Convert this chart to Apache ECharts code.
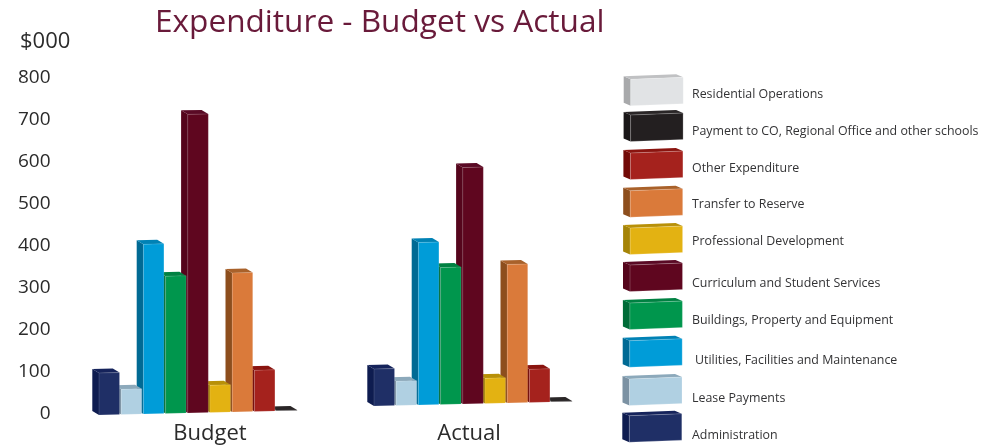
<!DOCTYPE html>
<html>
<head>
<meta charset="utf-8">
<style>html,body{margin:0;padding:0;background:#fff}#c{width:986px;height:447px}</style>
<script src="https://cdn.jsdelivr.net/npm/echarts@6/dist/echarts.min.js"></script>
</head>
<body>
<div id="c"></div>
<script>
const categories = ['Budget', 'Actual'];
const seriesNames = ['Residential Operations', 'Payment to CO, Regional Office and other schools', 'Other Expenditure', 'Transfer to Reserve', 'Professional Development', 'Curriculum and Student Services', 'Buildings, Property and Equipment', 'Utilities, Facilities and Maintenance', 'Lease Payments', 'Administration'];
const budgetValues = [0, 1, 98, 331, 65, 711, 327, 404, 60, 100];
const actualValues = [0, 1, 79, 330, 60, 563, 326, 387, 58, 88];
const frontColors = ['#e1e3e5', '#231f20', '#a5221d', '#da7a3a', '#e3b212', '#5f061f', '#00964d', '#009cd8', '#b0d0e2', '#1f2f66'];
const sideColors = ['#a8a9ab', '#1a1718', '#720a07', '#8d4e1d', '#a58407', '#55051c', '#006c38', '#006a94', '#7c92a3', '#0e1c50'];
const topColors = ['#c0c1c3', '#2a2627', '#8a140f', '#a9612a', '#b89008', '#5a0a25', '#008142', '#0082b5', '#8ca9bb', '#15235b'];
const yTicks = { min: 0, max: 800, interval: 100 };

const FONT = '"Open Sans", sans-serif';
const SLOT = 22.2, BAR_W = 20.5, DX = -6.7, DY = -4, TILT = -0.0226, GROUP_LIFT = [0, 9];
// swatch rows of the legend key
const rowTops = [79.3, 115, 153, 190.7, 228, 265, 303, 340.7, 379, 415.7];
const rowTextY = [94, 131, 168, 204, 241, 283, 320, 360, 398, 435];
const rowLeft = [630.7, 630.6, 630.4, 630.2, 630.1, 630, 629.9, 629.7, 629.5, 629.3];

function box(x, yTop, yBot, w, tilt, dx, dy, i, stroke) {
  return [
    { type: 'polygon', shape: { points: [[x, yTop], [x + dx, yTop + dy], [x + dx, yBot + dy], [x, yBot]] }, style: { fill: sideColors[i] } },
    { type: 'polygon', shape: { points: [[x, yTop], [x + dx, yTop + dy], [x + dx + w, yTop + dy + tilt], [x + w, yTop + tilt]] }, style: { fill: topColors[i] } },
    { type: 'polygon', shape: { points: [[x, yTop], [x + w, yTop + tilt], [x + w, yBot + tilt], [x, yBot]] }, style: { fill: frontColors[i], stroke: stroke, lineWidth: 0.6 } }
  ];
}

function renderBar(params, api) {
  const i = params.seriesIndex;
  const cat = api.value(0), v = api.value(1);
  if (!(v > 0)) return { type: 'group', children: [] };
  const slot = seriesNames.length - 1 - i;
  const zero = api.coord([cat, 0]), top = api.coord([cat, v]);
  const x = zero[0] + (slot - seriesNames.length / 2) * SLOT;
  const lift = 3 + TILT * slot * SLOT - GROUP_LIFT[cat];
  const children = box(x, top[1] + lift, zero[1] + lift, BAR_W, TILT * BAR_W, DX, DY, i, 'rgba(255,255,255,0.22)');
  return { type: 'group', children: children };
}

const keyGraphics = [];
seriesNames.forEach((name, i) => {
  keyGraphics.push({
    type: 'group', silent: true,
    children: box(rowLeft[i], rowTops[i], rowTops[i] + 26.5, 52.5, -2, -7, -3, i, 'rgba(255,255,255,0.35)')
  });
  keyGraphics.push({
    type: 'text', silent: true, x: name.startsWith('Utilities') ? 695 : 692, y: rowTextY[i],
    style: { text: name, font: '12.4px ' + FONT, fill: '#333335', verticalAlign: 'middle' }
  });
});

const chart = echarts.init(document.getElementById('c'), null, { renderer: 'canvas' });
chart.setOption({
  animation: false,
  backgroundColor: '#fff',
  title: [
    { text: 'Expenditure - Budget vs Actual', left: 150, top: 2, textStyle: { color: '#691a3a', fontSize: 31.6, fontWeight: 'normal', fontFamily: FONT } },
    { text: '$000', left: 15, top: 26, textStyle: { color: '#2b2b2b', fontSize: 22, fontWeight: 'normal', fontFamily: FONT } }
  ],
  grid: { left: 72.5, width: 550, top: 76, bottom: 35 },
  xAxis: {
    type: 'category',
    data: [{ value: categories[0] }, { value: categories[1], textStyle: { padding: [0, 32, 0, 0] } }],
    axisLine: { show: false }, axisTick: { show: false }, splitLine: { show: false },
    axisLabel: { color: '#2b2b2b', fontSize: 22, fontFamily: FONT, margin: 11 }
  },
  yAxis: {
    type: 'value', min: yTicks.min, max: yTicks.max, interval: yTicks.interval,
    axisLine: { show: false }, axisTick: { show: false }, splitLine: { show: false },
    axisLabel: { color: '#2b2b2b', fontSize: 19, fontFamily: FONT, margin: 22, verticalAlign: 'top', lineHeight: 3, padding: [0, 0, 0, 0] }
  },
  graphic: keyGraphics,
  series: seriesNames.map((name, i) => ({
    type: 'custom', name: name, clip: false, silent: true,
    encode: { x: 0, y: 1 },
    renderItem: renderBar,
    data: categories.map((c, k) => [k, (k === 0 ? budgetValues : actualValues)[i]])
  }))
});
</script>
</body>
</html>
